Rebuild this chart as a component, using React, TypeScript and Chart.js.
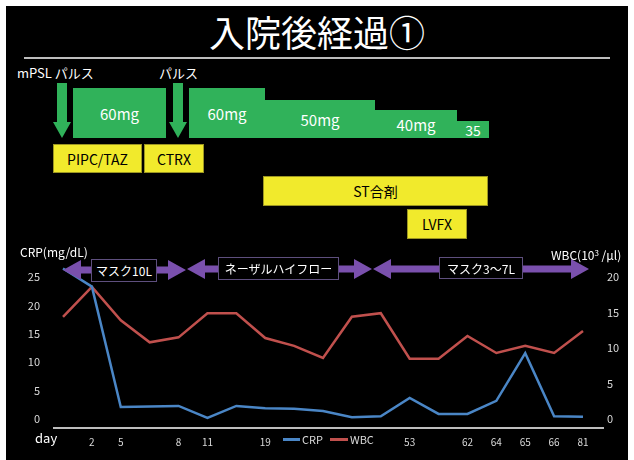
import React, { useEffect, useRef } from "react";
import { Chart, registerables } from "chart.js";

Chart.register(...registerables);

// ---- data ----
const dayLabels = ["", "2", "5", "", "8", "11", "", "19", "", "", "", "", "53", "", "62", "64", "65", "66", "81"];
const crpValues = [26.5, 23.3, 2.1, 2.2, 2.3, 0.2, 2.3, 1.9, 1.8, 1.4, 0.3, 0.5, 3.7, 0.9, 0.9, 3.2, 11.6, 0.5, 0.4];
const wbcValues = [14.4, 18.6, 13.9, 10.8, 11.5, 14.9, 14.9, 11.4, 10.3, 8.6, 14.4, 14.9, 8.5, 8.5, 11.7, 9.3, 10.3, 9.3, 12.4];
const crpTicks = [0, 5, 10, 15, 20, 25];
const wbcTicks = [0, 5, 10, 15, 20];
const seriesNames = ["CRP", "WBC"];

// ---- style ----
const FONT = '"Noto Sans CJK JP", "Noto Sans", sans-serif';
const CRP_COLOR = "#4a86c6";
const WBC_COLOR = "#c0504d";
const TICK_COLOR = "#d9d9d9";
const GREEN = "#30b25a";
const YELLOW = "#f1ea2c";
const PURPLE = "#7a50ad";

const axisLinePlugin = {
  id: "axisLine",
  afterDatasetsDraw(chart: any) {
    const x = chart.scales.x;
    const { ctx, chartArea } = chart;
    ctx.save();
    ctx.strokeStyle = "#bdbdbd";
    ctx.lineWidth = 2;
    ctx.beginPath();
    ctx.moveTo(x.getPixelForValue(0) - 10, chartArea.bottom);
    ctx.lineTo(x.getPixelForValue(dayLabels.length - 1) + 21, chartArea.bottom);
    ctx.stroke();
    ctx.restore();
  },
};

function dblArrow(x1: number, x2: number, y: number) {
  const h = 18, H = 10, s = 3.5;
  return [
    [x1, y], [x1 + h, y - H], [x1 + h, y - s], [x2 - h, y - s], [x2 - h, y - H],
    [x2, y], [x2 - h, y + H], [x2 - h, y + s], [x1 + h, y + s], [x1 + h, y + H],
  ].map((p) => p.join(",")).join(" ");
}

function downArrow(cx: number) {
  return [
    [cx - 5, 83], [cx + 5, 83], [cx + 5, 122], [cx + 9, 122], [cx, 138], [cx - 9, 122], [cx - 5, 122],
  ].map((p) => p.join(",")).join(" ");
}

const abs = (l: number, t: number, w: number, h: number): React.CSSProperties => ({
  position: "absolute", left: l, top: t, width: w, height: h, boxSizing: "border-box",
  display: "flex", alignItems: "center", justifyContent: "center",
});

const greenBlocks = [
  { l: 73, t: 88, w: 93, h: 50, text: "60mg", size: 15 },
  { l: 189, t: 88, w: 76, h: 50, text: "60mg", size: 15 },
  { l: 265, t: 100, w: 110, h: 38, text: "50mg", size: 15 },
  { l: 375, t: 110, w: 82, h: 28, text: "40mg", size: 15 },
  { l: 457, t: 121, w: 32, h: 17, text: "35", size: 14 },
];

const yellowBlocks = [
  { l: 53, t: 144, w: 89, h: 29, text: "PIPC/TAZ" },
  { l: 144, t: 144, w: 60, h: 29, text: "CTRX" },
  { l: 263, t: 176, w: 225, h: 30, text: "ST合剤" },
  { l: 407, t: 209, w: 60, h: 30, text: "LVFX" },
];

const o2Boxes = [
  { l: 91, t: 259, w: 66, h: 23, text: "マスク10L" },
  { l: 218, t: 257, w: 121, h: 23, text: "ネーザルハイフロー" },
  { l: 439, t: 257, w: 84, h: 22, text: "マスク3〜7L" },
];

export default function App() {
  const canvasRef = useRef<HTMLCanvasElement | null>(null);

  useEffect(() => {
    if (!canvasRef.current) return;
    const chart = new Chart(canvasRef.current, {
      type: "line",
      data: {
        labels: dayLabels,
        datasets: [
          {
            label: seriesNames[0], data: crpValues, borderColor: CRP_COLOR, backgroundColor: CRP_COLOR,
            borderWidth: 2.5, pointRadius: 0, yAxisID: "yL", tension: 0, clip: false as any,
          },
          {
            label: seriesNames[1], data: wbcValues, borderColor: WBC_COLOR, backgroundColor: WBC_COLOR,
            borderWidth: 2.5, pointRadius: 0, yAxisID: "yR", tension: 0,
          },
        ],
      },
      options: {
        responsive: false,
        animation: false,
        layout: { padding: { top: 277, left: 0, right: 0, bottom: 0 } },
        plugins: { legend: { display: false }, tooltip: { enabled: false } },
        scales: {
          x: {
            type: "category",
            offset: false,
            grid: { display: false, drawTicks: false },
            border: { display: false },
            ticks: { autoSkip: false, maxRotation: 0, color: TICK_COLOR, font: { family: FONT, size: 10 }, padding: 8 },
            afterFit: (s: any) => { s.height = 32; },
          },
          yL: {
            type: "linear",
            position: "left",
            min: -1.58,
            max: 25,
            grid: { display: false, drawTicks: false },
            border: { display: false },
            afterBuildTicks: (s: any) => { s.ticks = crpTicks.map((v) => ({ value: v })); },
            ticks: { color: TICK_COLOR, font: { family: FONT, size: 11 }, padding: 23 },
            afterFit: (s: any) => { s.width = 63; },
          },
          yR: {
            type: "linear",
            position: "right",
            min: -1.27,
            max: 20,
            grid: { display: false, drawTicks: false },
            border: { display: false },
            afterBuildTicks: (s: any) => { s.ticks = wbcTicks.map((v) => ({ value: v })); },
            ticks: { color: TICK_COLOR, font: { family: FONT, size: 11 }, padding: 24 },
            afterFit: (s: any) => { s.width = 51; },
          },
        },
      } as any,
      plugins: [axisLinePlugin],
    });
    return () => chart.destroy();
  }, []);

  return (
    <div style={{ position: "fixed", left: 0, top: 0, width: 634, height: 460, background: "#fff", overflow: "hidden", fontFamily: FONT }}>
      <div style={{ position: "absolute", left: 6, top: 6, width: 622, height: 454, background: "#000" }} />
      {/* title */}
      <div style={{ position: "absolute", left: 6, top: 9, width: 622, height: 44, lineHeight: "44px", textAlign: "center", color: "#fff", fontSize: 36 }}>
        入院後経過①
      </div>
      <div style={{ position: "absolute", left: 24, top: 57, width: 586, height: 2, background: "#bdbdbd" }} />

      {/* treatments */}
      <div style={{ position: "absolute", left: 17, top: 64, color: "#fff", fontSize: 13, lineHeight: "18px", whiteSpace: "nowrap" }}>mPSL パルス</div>
      <div style={{ position: "absolute", left: 159, top: 64, color: "#fff", fontSize: 13, lineHeight: "18px", whiteSpace: "nowrap" }}>パルス</div>
      {greenBlocks.map((b, i) => (
        <div key={"g" + i} style={{ ...abs(b.l, b.t, b.w, b.h), background: GREEN, color: "#fff", fontSize: b.size }}>{b.text}</div>
      ))}
      {yellowBlocks.map((b, i) => (
        <div key={"y" + i} style={{ ...abs(b.l, b.t, b.w, b.h), background: YELLOW, border: "1px solid #9c9622", color: "#000", fontSize: 14 }}>{b.text}</div>
      ))}

      <canvas ref={canvasRef} width={634} height={460} style={{ position: "absolute", left: 0, top: 0, width: 634, height: 460 }} />

      <svg width={634} height={460} style={{ position: "absolute", left: 0, top: 0 }}>
        <polygon points={downArrow(62)} fill={GREEN} />
        <polygon points={downArrow(178)} fill={GREEN} />
        <polygon points={dblArrow(63, 186, 270)} fill={PURPLE} />
        <polygon points={dblArrow(187, 372, 269)} fill={PURPLE} />
        <polygon points={dblArrow(373, 589, 269)} fill={PURPLE} />
      </svg>

      {o2Boxes.map((b, i) => (
        <div key={"o" + i} style={{ ...abs(b.l, b.t, b.w, b.h), background: "#000", border: "1.5px solid #5e4f7e", color: "#fff", fontSize: 12, whiteSpace: "nowrap" }}>{b.text}</div>
      ))}

      {/* axis titles */}
      <div style={{ position: "absolute", left: 20, top: 244, color: "#fff", fontSize: 12, lineHeight: "16px", whiteSpace: "nowrap" }}>CRP(mg/dL)</div>
      <div style={{ position: "absolute", left: 551, top: 245, color: "#fff", fontSize: 12, lineHeight: "16px", whiteSpace: "nowrap" }}>WBC(10<sup style={{ fontSize: 8, verticalAlign: "4px" }}>3</sup> /μl)</div>
      <div style={{ position: "absolute", left: 35, top: 429, color: "#fff", fontSize: 13, lineHeight: "18px" }}>day</div>

      {/* legend */}
      <div style={{ position: "absolute", left: 283, top: 432, display: "flex", alignItems: "center", color: TICK_COLOR, fontSize: 11, lineHeight: "14px", whiteSpace: "nowrap" }}>
        <span style={{ display: "inline-block", width: 17, height: 3, background: CRP_COLOR, marginRight: 2 }} />
        <span style={{ marginRight: 7 }}>{seriesNames[0]}</span>
        <span style={{ display: "inline-block", width: 18, height: 3, background: WBC_COLOR, marginRight: 2 }} />
        <span>{seriesNames[1]}</span>
      </div>
    </div>
  );
}
